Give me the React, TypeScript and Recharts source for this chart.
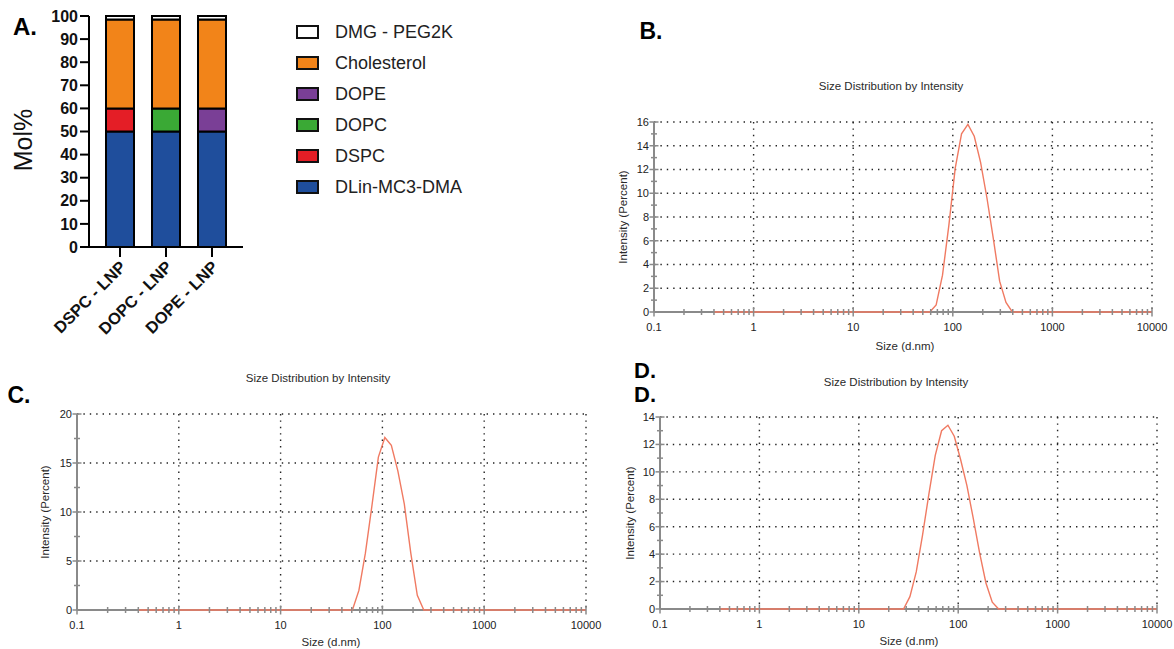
import React from 'react';
import { BarChart, Bar, XAxis, YAxis, LineChart, Line, CartesianGrid } from 'recharts';

// ---- panel A: lipid composition (mol%) ----
const FORMULATIONS = ['DSPC - LNP', 'DOPC - LNP', 'DOPE - LNP'];
const MC3 = [50, 50, 50];
const DSPC = [10, 0, 0];
const DOPC = [0, 10, 0];
const DOPE = [0, 0, 10];
const CHOLESTEROL = [38.5, 38.5, 38.5];
const PEG = [1.5, 1.5, 1.5];
const MOL_TICKS = [0, 10, 20, 30, 40, 50, 60, 70, 80, 90, 100];

// ---- panels B-D: DLS size distribution by intensity ----
const SIZES_B = [0.4, 58.77, 68.06, 78.82, 91.28, 105.7, 122.4, 141.8, 164.2, 190.1, 220.2, 255.0, 295.3, 342.0, 396.1, 10000];
const INTENSITY_B = [0, 0, 0.6, 3.1, 7.3, 12.1, 15.0, 15.8, 14.8, 12.6, 9.6, 6.2, 2.6, 0.8, 0, 0];

const SIZES_C = [0.4, 50.75, 58.77, 68.06, 78.82, 91.28, 105.7, 122.4, 141.8, 164.2, 190.1, 220.2, 255.0, 10000];
const INTENSITY_C = [0, 0, 2.0, 5.8, 10.6, 15.6, 17.6, 16.8, 14.2, 10.8, 5.8, 1.5, 0, 0];

const SIZES_D = [0.4, 28.21, 32.67, 37.84, 43.82, 50.75, 58.77, 68.06, 78.82, 91.28, 105.7, 122.4, 141.8, 164.2, 190.1, 220.2, 255.0, 10000];
const INTENSITY_D = [0, 0, 0.9, 2.7, 5.4, 8.4, 11.2, 13.0, 13.4, 12.6, 10.9, 9.0, 6.6, 4.1, 1.9, 0.5, 0, 0];

const DECADES = [0.1, 1, 10, 100, 1000, 10000];
const MINOR_X = [
  0.2, 0.3, 0.4, 0.5, 0.6, 0.7, 0.8, 0.9,
  2, 3, 4, 5, 6, 7, 8, 9,
  20, 30, 40, 50, 60, 70, 80, 90,
  200, 300, 400, 500, 600, 700, 800, 900,
  2000, 3000, 4000, 5000, 6000, 7000, 8000, 9000,
];
const Y_MAJOR_B = [0, 2, 4, 6, 8, 10, 12, 14, 16];
const Y_MINOR_B = [1, 3, 5, 7, 9, 11, 13, 15];
const Y_MAJOR_C = [0, 5, 10, 15, 20];
const Y_MINOR_C = [2.5, 7.5, 12.5, 17.5];
const Y_MAJOR_D = [0, 2, 4, 6, 8, 10, 12, 14];
const Y_MINOR_D = [1, 3, 5, 7, 9, 11, 13];

const FONT = "'Liberation Sans', Arial, sans-serif";
const AXIS_GRAY = '#8a8a8a';
const TEXT = '#2a2a2a';

const SERIES = [
  { key: 'mc3', name: 'DLin-MC3-DMA', values: MC3, color: '#1f4e9c' },
  { key: 'dspc', name: 'DSPC', values: DSPC, color: '#e41e26' },
  { key: 'dopc', name: 'DOPC', values: DOPC, color: '#3aa935' },
  { key: 'dope', name: 'DOPE', values: DOPE, color: '#7a3f96' },
  { key: 'chol', name: 'Cholesterol', values: CHOLESTEROL, color: '#f28419' },
  { key: 'peg', name: 'DMG - PEG2K', values: PEG, color: '#ffffff' },
];

const barData = FORMULATIONS.map((name, i) => {
  const row: Record<string, string | number> = { name };
  SERIES.forEach((s) => (row[s.key] = s.values[i]));
  return row;
});

const dlsRows = (sizes: number[], values: number[]) =>
  sizes.map((size, i) => ({ size, intensity: values[i] }));

function Txt({ x, y, size, weight = 400, rotate = 0, children, color = TEXT }: any) {
  return (
    <div
      style={{
        position: 'absolute',
        left: x,
        top: y,
        transform: `translate(-50%, -50%) rotate(${rotate}deg)`,
        fontFamily: FONT,
        fontSize: size,
        fontWeight: weight,
        color,
        whiteSpace: 'nowrap',
        lineHeight: 1,
      }}
    >
      {children}
    </div>
  );
}

const renderCatTick = (props: any) => {
  const { x, y, payload } = props;
  const ax = x + 7;
  const ay = y + 9;
  return (
    <text
      x={ax}
      y={ay}
      textAnchor="end"
      transform={`rotate(-45 ${ax} ${ay})`}
      fontFamily={FONT}
      fontSize={16.5}
      fontWeight={700}
      fill="#111"
    >
      {payload.value}
    </text>
  );
};

const renderLogTick = (props: any) => {
  const { x, y, payload } = props;
  const major = DECADES.includes(payload.value);
  const len = major ? 4.5 : 3;
  return (
    <g>
      <line x1={x} x2={x} y1={y - len} y2={y + len} stroke={AXIS_GRAY} strokeWidth={1.5} />
      {major && (
        <text x={x} y={y + 15} dy="0.35em" textAnchor="middle" fontFamily={FONT} fontSize={11} fill="#222">
          {String(payload.value)}
        </text>
      )}
    </g>
  );
};

const makeYTick = (majors: number[]) => (props: any) => {
  const { x, y, payload } = props;
  const major = majors.includes(payload.value);
  const len = major ? 4.5 : 3;
  return (
    <g>
      <line x1={x - len} x2={x + len} y1={y} y2={y} stroke={AXIS_GRAY} strokeWidth={1.5} />
      {major && (
        <text x={x - 5} y={y} dy="0.35em" textAnchor="end" fontFamily={FONT} fontSize={11} fill="#222">
          {payload.value}
        </text>
      )}
    </g>
  );
};

function DlsPanel({ box, margin, data, yMax, yMajor, yMinor }: any) {
  const yTicks = [...yMajor, ...yMinor].sort((a, b) => a - b);
  const xTicks = [...DECADES, ...MINOR_X].sort((a, b) => a - b);
  return (
    <div style={{ position: 'absolute', left: box.left, top: box.top }}>
      <LineChart width={box.width} height={box.height} data={data} margin={margin}>
        <CartesianGrid
          stroke="#222"
          strokeWidth={1.4}
          strokeDasharray="1.4 5"
          verticalValues={DECADES}
          horizontalValues={yMajor}
        />
        <XAxis
          dataKey="size"
          type="number"
          scale="log"
          domain={[0.1, 10000]}
          allowDataOverflow
          ticks={xTicks}
          interval={0}
          height={30}
          tickSize={0}
          tickMargin={0}
          tickLine={false}
          axisLine={{ stroke: AXIS_GRAY, strokeWidth: 2 }}
          tick={renderLogTick}
        />
        <YAxis
          type="number"
          domain={[0, yMax]}
          ticks={yTicks}
          interval={0}
          width={40}
          tickSize={0}
          tickMargin={0}
          tickLine={false}
          axisLine={{ stroke: AXIS_GRAY, strokeWidth: 2 }}
          tick={makeYTick(yMajor)}
        />
        <Line
          type="linear"
          dataKey="intensity"
          stroke="#f07a62"
          strokeWidth={1.4}
          dot={false}
          activeDot={false}
          isAnimationActive={false}
          zIndex={600}
        />
      </LineChart>
    </div>
  );
}

const PANELS = [
  {
    id: 'B',
    box: { left: 590, top: 60, width: 584, height: 300 },
    margin: { top: 62, right: 22, left: 24, bottom: 18 },
    data: dlsRows(SIZES_B, INTENSITY_B),
    yMax: 16,
    yMajor: Y_MAJOR_B,
    yMinor: Y_MINOR_B,
    title: [891, 87],
    xLabel: [905, 347],
    yLabel: [624, 217],
  },
  {
    id: 'C',
    box: { left: 0, top: 350, width: 620, height: 299 },
    margin: { top: 64, right: 34, left: 37, bottom: 9 },
    data: dlsRows(SIZES_C, INTENSITY_C),
    yMax: 20,
    yMajor: Y_MAJOR_C,
    yMinor: Y_MINOR_C,
    title: [318, 379],
    xLabel: [331, 643],
    yLabel: [46, 512],
  },
  {
    id: 'D',
    box: { left: 600, top: 350, width: 574, height: 299 },
    margin: { top: 67, right: 17, left: 20, bottom: 10 },
    data: dlsRows(SIZES_D, INTENSITY_D),
    yMax: 14,
    yMajor: Y_MAJOR_D,
    yMinor: Y_MINOR_D,
    title: [896, 383],
    xLabel: [909, 642],
    yLabel: [631, 513],
  },
];

export default function App() {
  return (
    <div style={{ position: 'absolute', left: 0, top: 0, width: 1174, height: 649, background: '#fff', overflow: 'hidden' }}>
      {/* A */}
      <div style={{ position: 'absolute', left: 0, top: 0 }}>
        <BarChart width={280} height={345} data={barData} margin={{ top: 16, right: 37, left: 0, bottom: 0 }} barSize={28}>
          <XAxis
            dataKey="name"
            padding={{ left: 8, right: 8 }}
            height={98}
            interval={0}
            tickSize={10}
            tickMargin={2}
            axisLine={{ stroke: '#000', strokeWidth: 2 }}
            tickLine={{ stroke: '#000', strokeWidth: 2 }}
            tick={renderCatTick}
          />
          <YAxis
            width={89}
            domain={[0, 100]}
            ticks={MOL_TICKS}
            interval={0}
            tickSize={9}
            tickMargin={2}
            axisLine={{ stroke: '#000', strokeWidth: 2 }}
            tickLine={{ stroke: '#000', strokeWidth: 2 }}
            tick={{ fontFamily: FONT, fontSize: 16, fontWeight: 700, fill: '#111' }}
          />
          {SERIES.map((s) => (
            <Bar
              key={s.key}
              dataKey={s.key}
              name={s.name}
              stackId="lipid"
              fill={s.color}
              stroke="#000"
              strokeWidth={2}
              isAnimationActive={false}
            />
          ))}
        </BarChart>
      </div>
      <Txt x={23} y={140} size={25} rotate={-90} color="#111">Mol%</Txt>
      <Txt x={25} y={27} size={24} weight={700} color="#000">A.</Txt>

      {/* legend */}
      {[...SERIES].reverse().map((s, i) => (
        <div key={s.key} style={{ position: 'absolute', left: 296, top: 32 + i * 31 - 7, display: 'flex', alignItems: 'center' }}>
          <div style={{ width: 19, height: 10, border: '2px solid #111', background: s.color }} />
          <span style={{ marginLeft: 16, fontFamily: FONT, fontSize: 18, color: '#222', lineHeight: '14px' }}>{s.name}</span>
        </div>
      ))}

      {PANELS.map((p) => (
        <React.Fragment key={p.id}>
          <DlsPanel box={p.box} margin={p.margin} data={p.data} yMax={p.yMax} yMajor={p.yMajor} yMinor={p.yMinor} />
          <Txt x={p.title[0]} y={p.title[1]} size={11.5}>Size Distribution by Intensity</Txt>
          <Txt x={p.xLabel[0]} y={p.xLabel[1]} size={11.5}>Size (d.nm)</Txt>
          <Txt x={p.yLabel[0]} y={p.yLabel[1]} size={11.5} rotate={-90}>Intensity (Percent)</Txt>
        </React.Fragment>
      ))}

      <Txt x={651} y={31} size={23} weight={700} color="#000">B.</Txt>
      <Txt x={19} y={395} size={23} weight={700} color="#000">C.</Txt>
      <Txt x={645} y={371} size={22} weight={700} color="#000">D.</Txt>
      <Txt x={645} y={395} size={22} weight={700} color="#000">D.</Txt>
    </div>
  );
}
